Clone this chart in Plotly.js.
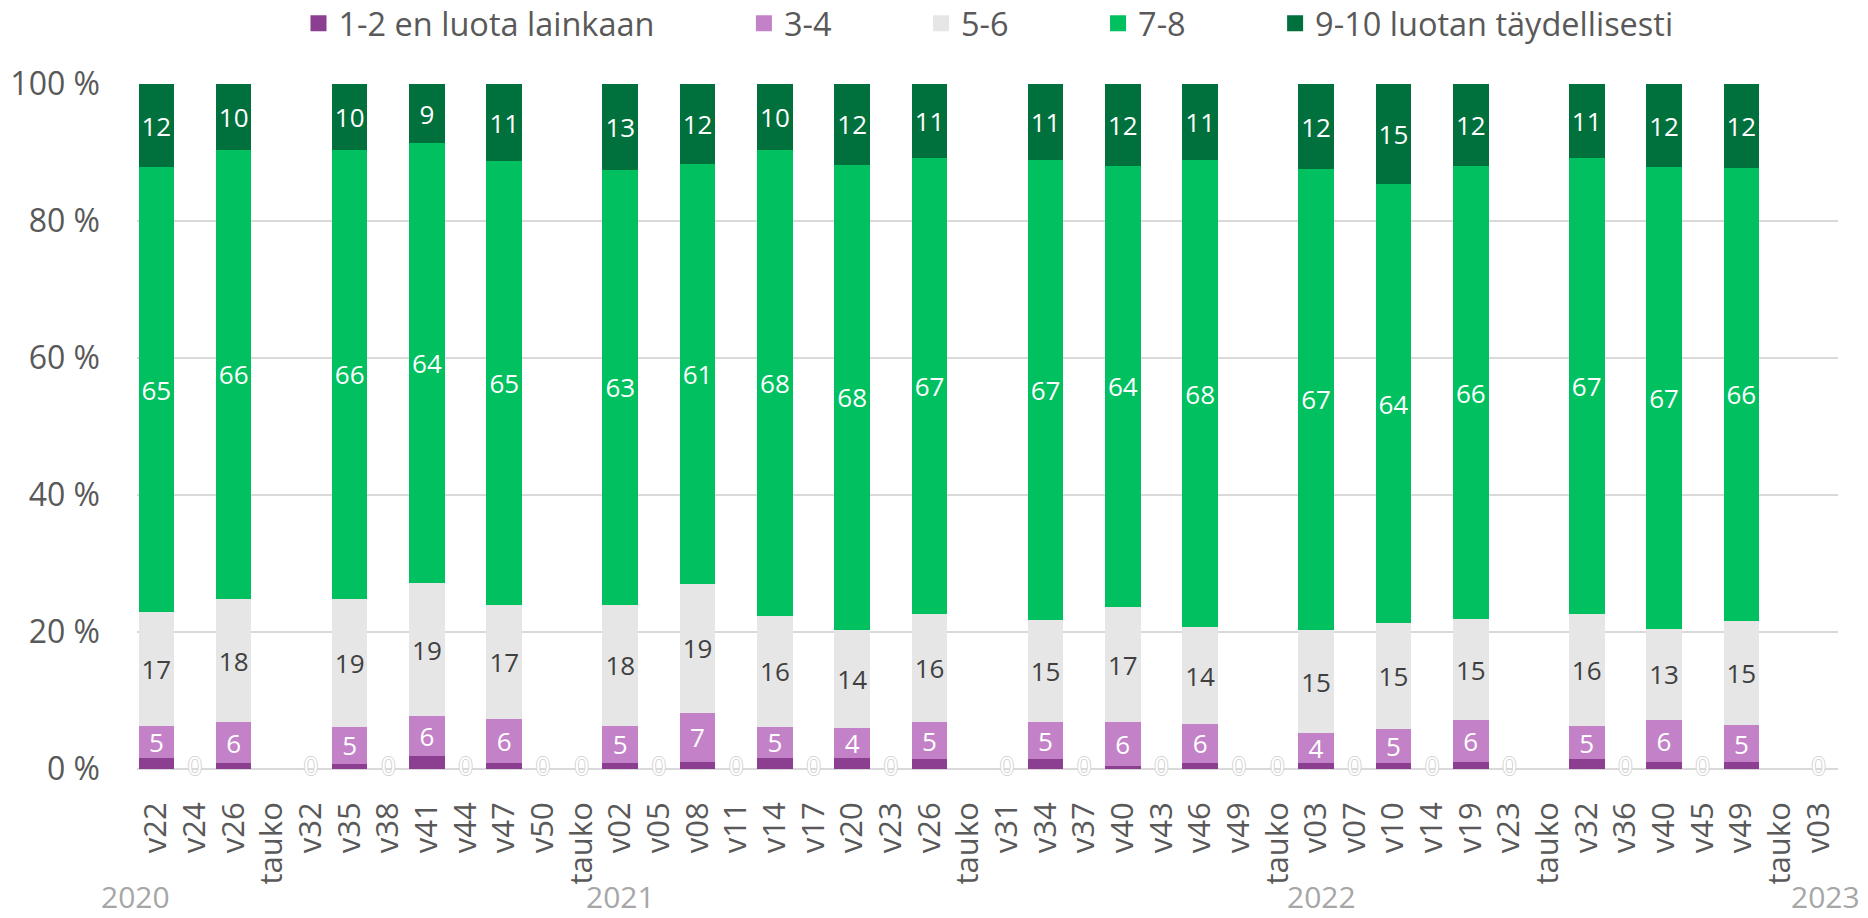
<!DOCTYPE html>
<html>
<head>
<meta charset="utf-8">
<script src="https://cdn.plot.ly/plotly-3.0.1.min.js"></script>
<style>html,body{margin:0;padding:0;background:#fff;}#chart{width:1868px;height:918px;}</style>
</head>
<body>
<div id="chart"></div>
<script>
// Category (week) labels along the x axis
const categories = ['v22','v24','v26','tauko','v32','v35','v38','v41','v44','v47','v50','tauko',
  'v02','v05','v08','v11','v14','v17','v20','v23','v26','tauko',
  'v31','v34','v37','v40','v43','v46','v49','tauko',
  'v03','v07','v10','v14','v19','v23','tauko','v32','v36','v40','v45','v49','tauko','v03'];

// Series values (%), null = no measurement shown
const s12  = [1.6,0,0.9,null,0,0.8,0,1.9,0,0.9,0,0, 0.9,0,1.0,0,1.6,0,1.6,0,1.4,null, 0,1.4,0,0.5,0,0.9,0,0, 0.9,0,0.9,0,1.0,0,null,1.4,0,1.0,0,1.0,null,0];
const s34  = [4.7,0,5.9,null,0,5.4,0,5.8,0,6.4,0,0, 5.4,0,7.2,0,4.6,0,4.4,0,5.4,null, 0,5.4,0,6.3,0,5.7,0,0, 4.3,0,5.0,0,6.1,0,null,4.9,0,6.1,0,5.4,null,0];
const s56  = [16.6,0,18.0,null,0,18.6,0,19.4,0,16.6,0,0, 17.7,0,18.8,0,16.1,0,14.3,0,15.8,null, 0,14.9,0,16.9,0,14.1,0,0, 15.1,0,15.4,0,14.8,0,null,16.3,0,13.4,0,15.2,null,0];
const s78  = [65.0,0,65.6,null,0,65.6,0,64.3,0,64.8,0,0, 63.4,0,61.3,0,68.1,0,67.9,0,66.6,null, 0,67.2,0,64.3,0,68.2,0,0, 67.3,0,64.1,0,66.1,0,null,66.6,0,67.4,0,66.2,null,0];
const s910 = [12.1,0,9.6,null,0,9.6,0,8.6,0,11.3,0,0, 12.6,0,11.7,0,9.6,0,11.8,0,10.8,null, 0,11.1,0,12.0,0,11.1,0,0, 12.4,0,14.6,0,12.0,0,null,10.8,0,12.1,0,12.2,null,0];

const seriesNames = ['1-2 en luota lainkaan','3-4','5-6','7-8','9-10 luotan täydellisesti'];
const seriesColors = ['#8C3F91','#C382C8','#E6E6E6','#00C060','#00703C'];
const labelColors = [null,'#ffffff','#404040','#ffffff','#ffffff'];

// Year labels and the category they sit under
const yearLabels = ['2020','2021','2022','2023'];
const yearIdx = [0,12,30,43];
const yearShift = [-21,0,5,7];

const yTickVals = [0,20,40,60,80,100];

const FONT = 'Open Sans, sans-serif';
const idx = categories.map((c,i)=>i);
const allSeries = [s12,s34,s56,s78,s910];

const traces = [];
allSeries.forEach((vals,k)=>{
  const t = {
    type:'bar', x: idx, y: vals, name: seriesNames[k],
    marker:{color: seriesColors[k]},
    showlegend:false, hoverinfo:'skip', cliponaxis:false
  };
  if (labelColors[k]) {
    t.text = vals.map(v => (v && v > 0) ? String(Math.round(v)) : '');
    t.textposition = 'inside';
    t.insidetextanchor = 'middle';
    t.textangle = 0;
    t.constraintext = 'none';
    t.textfont = {family: FONT, size: 26, color: labelColors[k]};
  } else {
    t.textposition = 'none';
  }
  traces.push(t);
});

// zero labels for weeks where every series is 0
const zeroIdx = idx.filter(i => allSeries.every(s => s[i] === 0));
traces.push({
  type:'scatter', mode:'text', x: zeroIdx, y: zeroIdx.map(()=>0),
  text: zeroIdx.map(i => String(allSeries[0][i])),
  textposition:'middle center', cliponaxis:false,
  textfont:{family: FONT, size: 25, color:'#ffffff',
    shadow:'1px 0 0 #d4d4d4, -1px 0 0 #d4d4d4, 0 1px 0 #d4d4d4, 0 -1px 0 #d4d4d4'},
  showlegend:false, hoverinfo:'skip'
});

// legend entries
const pad = '\u00a0'.repeat(10);
seriesNames.forEach((n,k)=>{
  traces.push({
    type:'scatter', mode:'markers', x:[null], y:[null],
    name: n + (k < seriesNames.length-1 ? pad : ''),
    marker:{symbol:'square', size:16, color: seriesColors[k]},
    hoverinfo:'skip'
  });
});

const layout = {
  width:1868, height:918,
  margin:{l:137, r:30, t:84, b:149, pad:0},
  paper_bgcolor:'#ffffff', plot_bgcolor:'#ffffff',
  font:{family: FONT, color:'#595959'},
  barmode:'stack', bargap:0.08,
  xaxis:{
    type:'linear', range:[-0.5, categories.length-0.5],
    tickmode:'array', tickvals: idx, ticktext: categories,
    tickangle:-90, ticks:'', showgrid:false, zeroline:false, showline:false,
    tickfont:{family: FONT, size:31, color:'#595959'},
    ticklabelstandoff: 26, fixedrange:true
  },
  yaxis:{
    range:[0,100.01], tickmode:'array', tickvals: yTickVals,
    ticktext: yTickVals.map(v => v + ' %'),
    ticks:'', showline:false,
    gridcolor:'#d9d9d9', gridwidth:2,
    zeroline:true, zerolinecolor:'#d9d9d9', zerolinewidth:2,
    tickfont:{family: FONT, size:32, color:'#595959'},
    ticklabelstandoff: 36, fixedrange:true
  },
  legend:{
    orientation:'h', traceorder:'normal', xref:'container', yref:'container',
    x: 298.5/1868, xanchor:'left', y: 1-23.5/918, yanchor:'middle',
    font:{family: FONT, size:32.5, color:'#595959'},
    bgcolor:'rgba(0,0,0,0)', borderwidth:0, itemclick:false, itemdoubleclick:false
  },
  annotations: yearLabels.map((t,i)=>({
    text:t, x: yearIdx[i], xref:'x', y:0, yref:'paper',
    xanchor:'center', yanchor:'middle', yshift:-127, xshift: yearShift[i],
    showarrow:false, font:{family: FONT, size:30, color:'#A6A6A6'}
  })),
  showlegend:true
};

Plotly.newPlot('chart', traces, layout, {staticPlot:true, displayModeBar:false});
</script>
</body>
</html>
